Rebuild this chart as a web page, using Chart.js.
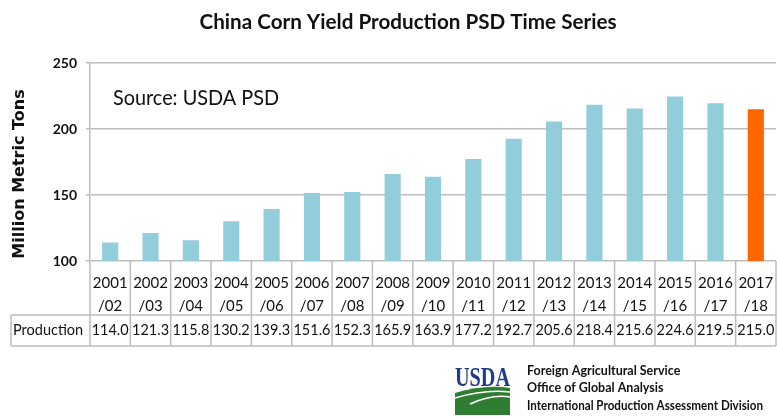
<!DOCTYPE html>
<html lang="en">
  <head>
    <meta charset="UTF-8" />
    <title>China Corn Yield Production PSD Time Series</title>
    <script src="https://cdn.jsdelivr.net/npm/chart.js@4.4.0/dist/chart.umd.min.js"></script>
    <style>
      html, body { margin: 0; padding: 0; background: #fff; }
      canvas { display: block; }
    </style>
  </head>
  <body>
    <canvas id="myChart" width="777" height="418"></canvas>

    <script>
      // marketing years, split in two lines like the original
      const years = ["2001", "2002", "2003", "2004", "2005", "2006", "2007", "2008", "2009",
        "2010", "2011", "2012", "2013", "2014", "2015", "2016", "2017"];
      const yearEnds = ["/02", "/03", "/04", "/05", "/06", "/07", "/08", "/09", "/10",
        "/11", "/12", "/13", "/14", "/15", "/16", "/17", "/18"];
      const production = [114.0, 121.3, 115.8, 130.2, 139.3, 151.6, 152.3, 165.9, 163.9,
        177.2, 192.7, 205.6, 218.4, 215.6, 224.6, 219.5, 215.0];
      const yTicks = [100, 150, 200, 250];

      const lineColor = "#bdbdbd";
      const textColor = "#111";

      const decor = {
        id: "decor",
        afterDraw(chart) {
          const ctx = chart.ctx;
          const a = chart.chartArea;
          const x = chart.scales.x;
          const half = (x.getPixelForValue(1) - x.getPixelForValue(0)) / 2;
          const rowTop = x.bottom;
          const rowBot = rowTop + 31;
          ctx.save();

          // title
          ctx.fillStyle = textColor;
          ctx.textAlign = "center";
          ctx.textBaseline = "middle";
          ctx.font = "bold 21px Lato";
          ctx.fillText("China Corn Yield Production PSD Time Series", 408, 22, 417);

          // y axis title
          ctx.save();
          ctx.translate(20, 174);
          ctx.rotate(-Math.PI / 2);
          ctx.font = "bold 16px 'DejaVu Sans'";
          ctx.fillText("Million Metric Tons", 0, 0, 185);
          ctx.restore();

          // source note
          ctx.textAlign = "left";
          ctx.font = "21px Lato";
          ctx.fillText("Source: USDA PSD", 113, 98, 166);

          // data table lines
          ctx.strokeStyle = lineColor;
          ctx.lineWidth = 1.5;
          ctx.beginPath();
          ctx.moveTo(11, rowTop); ctx.lineTo(a.right, rowTop);
          ctx.moveTo(11, rowBot); ctx.lineTo(a.right, rowBot);
          ctx.moveTo(11, rowTop); ctx.lineTo(11, rowBot);
          for (let i = 0; i < years.length; i++) {
            const px = x.getPixelForValue(i) + half;
            ctx.moveTo(px, a.bottom); ctx.lineTo(px, rowBot);
          }
          ctx.moveTo(a.left, a.bottom); ctx.lineTo(a.left, rowBot);
          ctx.stroke();

          // production row
          const rowMid = (rowTop + rowBot) / 2;
          ctx.font = "14.5px Lato";
          ctx.fillText("Production", 13, rowMid, 73);
          ctx.textAlign = "center";
          production.forEach((v, i) => {
            ctx.fillText(v.toFixed(1), x.getPixelForValue(i), rowMid, 37);
          });

          // USDA logo
          ctx.fillStyle = "#1f3c8c";
          ctx.textAlign = "left";
          ctx.textBaseline = "alphabetic";
          ctx.font = "bold 27px 'Liberation Serif'";
          ctx.fillText("USDA", 455, 386, 55);
          ctx.fillStyle = "#2f7d32";
          ctx.beginPath();
          ctx.moveTo(455, 393);
          ctx.quadraticCurveTo(485, 384, 510, 388);
          ctx.lineTo(510, 415);
          ctx.lineTo(455, 415);
          ctx.closePath();
          ctx.fill();
          ctx.strokeStyle = "#fff";
          ctx.lineWidth = 1.6;
          ctx.beginPath();
          ctx.moveTo(455, 398); ctx.quadraticCurveTo(485, 389, 510, 392);
          ctx.moveTo(470, 404); ctx.quadraticCurveTo(492, 394, 510, 397);
          ctx.stroke();

          ctx.fillStyle = textColor;
          ctx.textBaseline = "middle";
          ctx.font = "bold 12.5px Lato";
          ctx.fillText("Foreign Agricultural Service", 527, 371);
          ctx.fillText("Office of Global Analysis", 527, 388);
          ctx.fillText("International Production Assessment Division", 527, 406, 236);
          ctx.restore();
        },
      };

      buildChart();
      async function buildChart() {
        await Promise.all([
          document.fonts.load("14px Lato"),
          document.fonts.load("bold 14px Lato"),
          document.fonts.load("bold 16px 'DejaVu Sans'"),
          document.fonts.load("bold 26px 'Liberation Serif'"),
        ]).catch(() => {});

        const ctx = document.getElementById("myChart").getContext("2d");
        new Chart(ctx, {
          type: "bar",
          data: {
            labels: years.map((y, i) => [y, yearEnds[i]]),
            datasets: [
              {
                label: "Production",
                data: production,
                backgroundColor: production.map((v, i) =>
                  i === production.length - 1 ? "#ff6600" : "#92cddc"),
                borderWidth: 0,
                categoryPercentage: 1,
                barPercentage: 0.4,
              },
            ],
          },
          options: {
            responsive: false,
            devicePixelRatio: 1,
            animation: false,
            layout: { padding: { top: 63, left: 0, right: 1, bottom: 103 } },
            plugins: {
              legend: { display: false },
              title: { display: false },
              tooltip: { enabled: false },
            },
            scales: {
              x: {
                grid: { display: false },
                border: { display: false },
                ticks: {
                  font: { family: "Lato", size: 15, lineHeight: "23px" },
                  color: textColor,
                  padding: 3,
                  maxRotation: 0,
                  autoSkip: false,
                },
                afterFit: (s) => { s.height = 54; },
              },
              y: {
                min: 100,
                max: 250,
                afterBuildTicks: (s) => { s.ticks = yTicks.map((v) => ({ value: v })); },
                grid: { color: lineColor, lineWidth: 1.5, tickLength: 4 },
                border: { color: lineColor, width: 1.5 },
                ticks: {
                  font: { family: "Lato", size: 14, weight: "bold" },
                  color: textColor,
                  padding: 9,
                },
                afterFit: (s) => { s.width = 90; },
              },
            },
          },
          plugins: [decor],
        });
      }
    </script>
  </body>
</html>
